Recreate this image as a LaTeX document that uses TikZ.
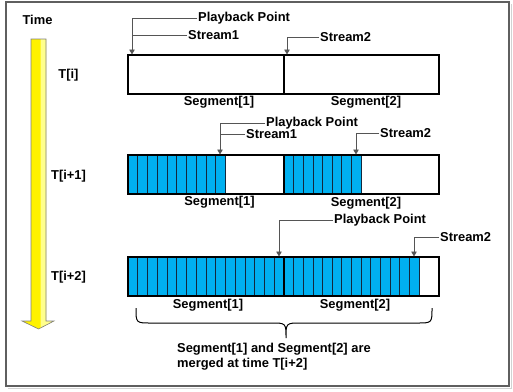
\documentclass[tikz,border=0pt]{standalone}
\usepackage{fontspec}
\setmainfont{Liberation Sans}
\usetikzlibrary{arrows.meta}
\definecolor{cellfill}{RGB}{0,176,240}
\definecolor{celline}{RGB}{20,40,60}
\definecolor{framegray}{RGB}{95,95,95}
\definecolor{conngray}{RGB}{85,85,85}
\definecolor{paleyel}{RGB}{255,255,140}
\tikzset{
  lbl/.style={font=\bfseries\fontsize{12.9}{15}\selectfont, inner sep=1pt},
  conn/.style={draw=conngray, line width=0.9pt, -{Triangle[width=5.5pt,length=5pt]}},
  lead/.style={draw=conngray, line width=0.9pt},
  boxline/.style={draw=black, line width=1.8pt},
  cell/.style={fill=cellfill, draw=celline, line width=0.8pt},
}
\begin{document}
\begin{tikzpicture}[x=1pt,y=-1pt]
\useasboundingbox (0,0) rectangle (513,391);
% frame
\draw[gray!35, line width=1pt] (8,388.5) -- (511,388.5) -- (511,4);
\draw[draw=framegray, line width=1.6pt] (6,2) rectangle (509,386);

% time arrow
\path[fill=yellow] (31,39) -- (46,39) -- (46,321) -- (54,321) -- (38.5,329) -- (22,321) -- (31,321) -- cycle;
\begin{scope}
\clip (40.5,0) rectangle (60,391);
\path[fill=paleyel] (31,39) -- (46,39) -- (46,321) -- (54,321) -- (38.5,329) -- (22,321) -- (31,321) -- cycle;
\end{scope}
\draw[gray, line width=0.6pt] (31,39) -- (46,39) -- (46,321) -- (54,321) -- (38.5,329) -- (22,321) -- (31,321) -- cycle;

\node[lbl] (time) at (37.5,20) {Time};
\node[lbl] (ti) at (68.5,75) {T[i]};
\node[lbl] (ti1) at (68.5,176) {T[i+1]};
\node[lbl] (ti2) at (68.5,277) {T[i+2]};

% ---------- row 1
\draw[boxline] (128,55) rectangle (439,94);
\draw[boxline] (284,55) -- (284,94);
\node[lbl] (seg11) at (219,102) {Segment[1]};
\node[lbl] (seg12) at (366,102) {Segment[2]};
\coordinate (a1) at (132,54.5);
\coordinate (a2) at (287,54.5);
\node[lbl, anchor=west] (pp1) at (197,18) {Playback Point};
\node[lbl, anchor=west] (s11) at (187,35.5) {Stream1};
\node[lbl, anchor=west] (s21) at (319,37) {Stream2};
\draw[conn] (pp1.west) -| (a1);
\draw[lead] (s11.west) -- (s11.west -| a1);
\draw[conn] (s21.west) -| (a2);

% ---------- row 2
\foreach \i in {0,...,9} \draw[cell] ({128+\i*9.75},155) rectangle ++(9.75,39);
\foreach \i in {0,...,7} \draw[cell] ({284+\i*9.64},155) rectangle ++(9.64,39);
\draw[boxline] (128,155) rectangle (439,194);
\draw[boxline] (284,155) -- (284,194);
\node[lbl] (seg21) at (219.5,202) {Segment[1]};
\node[lbl] (seg22) at (366,203) {Segment[2]};
\coordinate (b1) at (220,154.5);
\coordinate (b2) at (356,154.5);
\node[lbl, anchor=west] (pp2) at (265,123.5) {Playback Point};
\node[lbl, anchor=west] (s12) at (245,134.5) {Stream1};
\node[lbl, anchor=west] (s22) at (379,133) {Stream2};
\draw[conn] (pp2.west) -| (b1);
\draw[lead] (s12.west) -- (s12.west -| b1);
\draw[conn] (s22.west) -| (b2);

% ---------- row 3
\foreach \i in {0,...,15} \draw[cell] ({128+\i*9.75},257) rectangle ++(9.75,39);
\foreach \i in {0,...,13} \draw[cell] ({284+\i*9.64},257) rectangle ++(9.64,39);
\draw[boxline] (128,257) rectangle (439,296);
\draw[boxline] (284,257) -- (284,296);
\node[lbl] (seg31) at (208,305) {Segment[1]};
\node[lbl] (seg32) at (355,305) {Segment[2]};
\coordinate (c1) at (279,256.5);
\coordinate (c2) at (414,256.5);
\node[lbl, anchor=west] (pp3) at (333,220) {Playback Point};
\node[lbl, anchor=west] (s23) at (439,237) {Stream2};
\draw[conn] (pp3.west) -| (c1);
\draw[conn] (s23.west) -| (c2);

% brace
\coordinate (bl) at (136,308);
\coordinate (bm) at (286,338);
\coordinate (br) at (432,308);
\draw[black, line width=1pt] (bl) .. controls (136,323) .. (151,323) -- (271,323)
  .. controls (286,323) .. (bm) .. controls (286,323) .. (301,323) -- (417,323)
  .. controls (432,323) .. (br);

\node[lbl, anchor=north west, align=left] (cap) at (176,342) {Segment[1] and Segment[2] are\\merged at time T[i+2]};
\end{tikzpicture}
\end{document}
